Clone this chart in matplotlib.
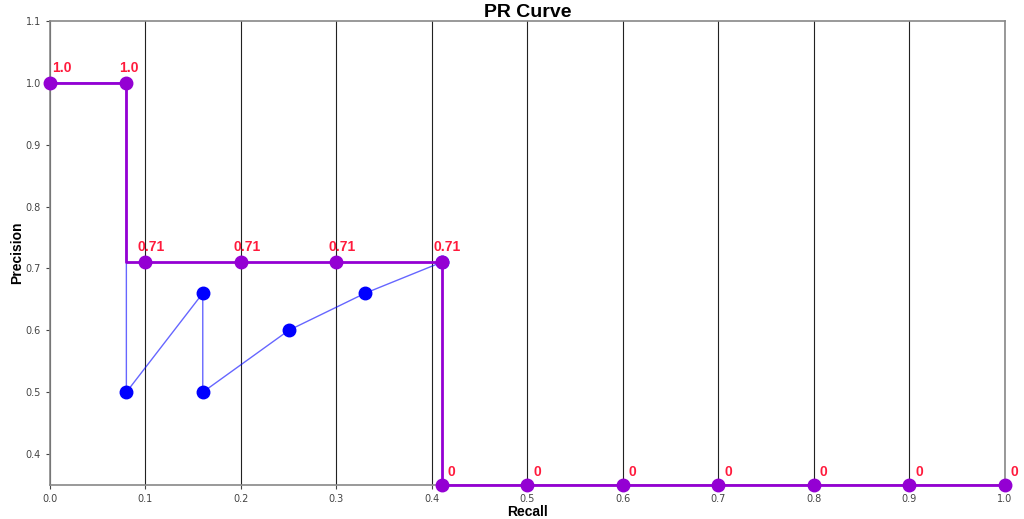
import matplotlib
matplotlib.use('Agg')
import matplotlib.pyplot as plt

# raw precision/recall points
recall = [0.0, 0.08, 0.08, 0.16, 0.16, 0.25, 0.33, 0.41]
precision = [1.0, 1.0, 0.5, 0.66, 0.5, 0.6, 0.66, 0.71]

# interpolated points (precision 0 is drawn on the lower edge)
interp_recall = [0.0, 0.08, 0.1, 0.2, 0.3, 0.41, 0.41, 0.5, 0.6, 0.7, 0.8, 0.9, 1.0]
interp_precision = [1.0, 1.0, 0.71, 0.71, 0.71, 0.71, 0, 0, 0, 0, 0, 0, 0]
y_floor = 0.35

step_x = [0.0, 0.08, 0.08, 0.1, 0.2, 0.3, 0.41, 0.41, 0.5, 0.6, 0.7, 0.8, 0.9, 1.0]
step_y = [1.0, 1.0, 0.71, 0.71, 0.71, 0.71, 0.71, 0, 0, 0, 0, 0, 0, 0]

purple = '#9400d3'
red = '#ff1a3c'
bold_font = ['Liberation Sans', 'DejaVu Sans']

fig = plt.figure(figsize=(10.24, 5.19), dpi=100)
ax = fig.add_axes([0.0488, 0.0655, 0.9326, 0.894])

ax.plot(recall, precision, color='blue', alpha=0.6, lw=1, zorder=2)
ax.plot(recall[2:], precision[2:], 'o', color='blue', ms=9, zorder=3)

sy = [max(v, y_floor) for v in step_y]
ax.plot(step_x, sy, color=purple, lw=2, zorder=4, clip_on=False)
iy = [max(v, y_floor) for v in interp_precision]
ax.plot(interp_recall, iy, 'o', color=purple, ms=9, zorder=5, clip_on=False)

for x, p, y in zip(interp_recall, interp_precision, iy):
    if p == 0:
        lab, dx, dy = '0', 0.006, 0.01
    else:
        lab = '1.0' if p == 1.0 else f'{p:.2f}'
        dx = 0.002 if x == 0 else -0.008
        dy = 0.013
    ax.text(x + dx, y + dy, lab, color=red, fontsize=10, family=bold_font,
            fontweight='bold', ha='left', va='bottom', zorder=6)

ax.set_xlim(0, 1.0)
ax.set_ylim(y_floor, 1.1)
ax.set_xticks([i / 10 for i in range(11)])
ax.set_yticks([0.4, 0.5, 0.6, 0.7, 0.8, 0.9, 1.0, 1.1])
ax.tick_params(labelsize=7, colors='#444444', length=3)
ax.grid(axis='x', color='#222222', lw=0.8)
for s in ax.spines.values():
    s.set_color('#888888')
    s.set_linewidth(1.2)

ax.set_title('PR Curve', fontsize=14, fontweight='bold', family=bold_font, pad=3)
ax.set_xlabel('Recall', fontsize=10, fontweight='bold', family=bold_font, labelpad=1)
ax.set_ylabel('Precision', fontsize=10, fontweight='bold', family=bold_font, labelpad=1)

fig.savefig('out.png', dpi=100)
